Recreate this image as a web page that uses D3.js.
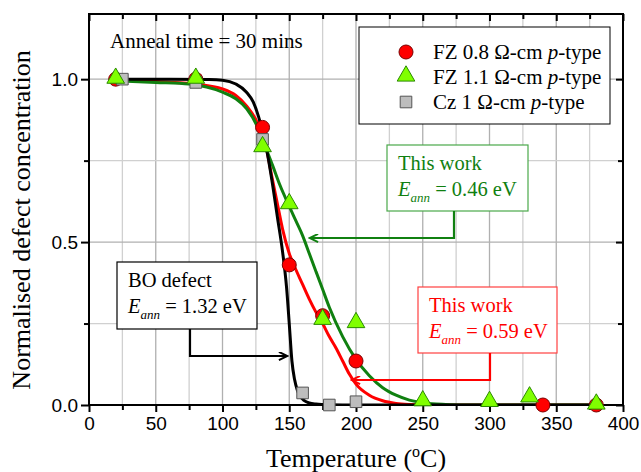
<!DOCTYPE html>
<html lang="en">
<head>
<meta charset="UTF-8">
<title>Anneal</title>
<script src="https://d3js.org/d3.v7.min.js"></script>
<style>
  body { margin: 0; background: #fff; }
  text { font-family: "Liberation Serif", "Times New Roman", serif; }
  .tick text { font-family: "Liberation Sans", Arial, sans-serif; font-size: 19px; fill: #000; }
</style>
</head>
<body>
<svg width="641" height="472"></svg>
<script>
// measured points
let fzA_T = [20, 80, 130, 150, 175, 200, 340, 380]
let fzA_N = [1.0, 1.0, 0.852, 0.43, 0.274, 0.135, 0.0, 0.0]

let fzB_T = [20, 80, 130, 150, 175, 200, 250, 300, 330, 380]
let fzB_N = [1.0, 1.0, 0.79, 0.615, 0.26, 0.25, 0.01, 0.008, 0.022, 0.0]

let cz_T = [25, 80, 130, 160, 180, 200]
let cz_N = [1.0, 0.99, 0.815, 0.037, 0.0, 0.01]

// fitted curves
let fitBO_T = [20, 60, 90, 100, 110, 118, 123, 127, 130, 133, 137, 141, 145, 148, 150, 152, 154, 156, 158, 161, 165, 170, 180, 200, 380]
let fitBO_N = [1.0, 1.0, 0.999, 0.997, 0.985, 0.96, 0.93, 0.885, 0.84, 0.785, 0.69, 0.58, 0.47, 0.36, 0.25, 0.135, 0.078, 0.046, 0.028, 0.014, 0.006, 0.003, 0.001, 0, 0]

let fitA_T = [20, 50, 80, 100, 110, 118, 126, 133, 137, 141, 145, 150, 155, 160, 165, 170, 175, 180, 185, 190, 195, 200, 210, 220, 230, 240, 250, 380]
let fitA_N = [0.998, 0.993, 0.985, 0.97, 0.95, 0.918, 0.867, 0.785, 0.70, 0.62, 0.54, 0.465, 0.415, 0.37, 0.325, 0.285, 0.25, 0.21, 0.175, 0.135, 0.095, 0.064, 0.03, 0.013, 0.005, 0.0015, 0, 0]

let fitB_T = [20, 50, 75, 100, 110, 118, 126, 130, 138, 143, 150, 155, 160, 165, 170, 175, 180, 190, 200, 210, 220, 230, 240, 250, 260, 270, 285, 380]
let fitB_N = [0.995, 0.99, 0.985, 0.96, 0.94, 0.91, 0.856, 0.815, 0.73, 0.675, 0.61, 0.565, 0.52, 0.465, 0.41, 0.355, 0.30, 0.21, 0.14, 0.09, 0.053, 0.03, 0.015, 0.007, 0.003, 0.001, 0, 0]

let xTicks = [0, 50, 100, 150, 200, 250, 300, 350, 400]
let yTicks = [0.0, 0.5, 1.0]

let svg = d3.select('svg')
let x = d3.scaleLinear().domain([0, 400]).range([89, 623])
let y = d3.scaleLinear().domain([0, 1.2]).range([405, 14])

let zip = (a, b) => a.map((v, i) => [v, b[i]])

// grid
let grid = svg.append('g')
grid.selectAll('line.vx')
    .data(d3.range(25, 400, 25))
    .join('line')
    .attr('x1', d => x(d)).attr('x2', d => x(d))
    .attr('y1', y(0)).attr('y2', y(1.2))
    .attr('stroke', d => d % 50 == 0 ? '#b0b0b0' : '#d0d0d0')
    .attr('stroke-width', 1.3)
grid.selectAll('line.hy')
    .data([0.25, 0.5, 0.75, 1.0])
    .join('line')
    .attr('x1', x(0)).attr('x2', x(400))
    .attr('y1', d => y(d)).attr('y2', d => y(d))
    .attr('stroke', d => d % 0.5 == 0 ? '#b0b0b0' : '#d0d0d0')
    .attr('stroke-width', 1.3)

// axes
let minorX = d3.range(25, 400, 50)
let minorY = [0.25, 0.75]
function styleAxis(g) {
    g.select('.domain').remove()
    g.selectAll('.tick line').attr('stroke', '#000').attr('stroke-width', 2)
}
svg.append('g').attr('transform', `translate(0,${y(0)})`)
    .call(d3.axisBottom(x).tickValues(xTicks).tickSize(7).tickPadding(5).tickFormat(d3.format('d')))
    .call(styleAxis)
svg.append('g').attr('transform', `translate(0,${y(0)})`)
    .call(d3.axisBottom(x).tickValues(minorX).tickSize(5).tickFormat(''))
    .call(styleAxis)
svg.append('g').attr('transform', `translate(0,${y(1.2)})`)
    .call(d3.axisTop(x).tickValues(xTicks).tickSize(-7).tickFormat(''))
    .call(styleAxis)
svg.append('g').attr('transform', `translate(0,${y(1.2)})`)
    .call(d3.axisTop(x).tickValues(minorX).tickSize(-5).tickFormat(''))
    .call(styleAxis)
svg.append('g').attr('transform', `translate(${x(0)},0)`)
    .call(d3.axisLeft(y).tickValues(yTicks).tickSize(8).tickPadding(3).tickFormat(d3.format('.1f')))
    .call(styleAxis)
svg.append('g').attr('transform', `translate(${x(0)},0)`)
    .call(d3.axisLeft(y).tickValues(minorY).tickSize(5).tickFormat(''))
    .call(styleAxis)
svg.append('g').attr('transform', `translate(${x(400)},0)`)
    .call(d3.axisRight(y).tickValues(yTicks).tickSize(-7).tickFormat(''))
    .call(styleAxis)
svg.append('g').attr('transform', `translate(${x(400)},0)`)
    .call(d3.axisRight(y).tickValues(minorY).tickSize(-5).tickFormat(''))
    .call(styleAxis)

// fit curves
svg.append('clipPath').attr('id', 'plot')
    .append('rect').attr('x', x(0)).attr('y', y(1.2)).attr('width', x(400) - x(0)).attr('height', y(0) - y(1.2))
let line = d3.line().x(d => x(d[0])).y(d => y(d[1])).curve(d3.curveMonotoneX)
let fits = [
    {pts: zip(fitA_T, fitA_N), color: '#ff0000'},
    {pts: zip(fitB_T, fitB_N), color: '#108010'},
    {pts: zip(fitBO_T, fitBO_N), color: '#000000'}
]
svg.append('g').attr('clip-path', 'url(#plot)')
    .selectAll('path')
    .data(fits)
    .join('path')
    .attr('d', d => line(d.pts))
    .attr('fill', 'none')
    .attr('stroke', d => d.color)
    .attr('stroke-width', 3)

// frame
svg.append('rect')
    .attr('x', x(0)).attr('y', y(1.2))
    .attr('width', x(400) - x(0)).attr('height', y(0) - y(1.2))
    .attr('fill', 'none').attr('stroke', '#000').attr('stroke-width', 2)

// markers
let tri = d3.symbol().type(d3.symbolTriangle).size(135)
let sq = d3.symbol().type(d3.symbolSquare).size(135)

svg.append('g').selectAll('circle')
    .data(zip(fzA_T, fzA_N))
    .join('circle')
    .attr('cx', d => x(d[0])).attr('cy', d => y(d[1])).attr('r', 7)
    .attr('fill', '#ff0000').attr('stroke', '#7a0000').attr('stroke-width', 1)
svg.append('g').selectAll('path')
    .data(zip(cz_T, cz_N))
    .join('path')
    .attr('d', sq)
    .attr('transform', d => `translate(${x(d[0])},${y(d[1])})`)
    .attr('fill', '#bdbdbd').attr('stroke', '#555').attr('stroke-width', 1)
svg.append('g').selectAll('path')
    .data(zip(fzB_T, fzB_N))
    .join('path')
    .attr('d', tri)
    .attr('transform', d => `translate(${x(d[0])},${y(d[1]) - 1})`)
    .attr('fill', '#80ff00').attr('stroke', '#2a8a00').attr('stroke-width', 1)

// anneal time label
svg.append('text').attr('x', 110).attr('y', 48).attr('font-size', 21).text('Anneal time = 30 mins')

// legend
let legend = svg.append('g')
legend.append('rect').attr('x', 359).attr('y', 27).attr('width', 251).attr('height', 97)
    .attr('fill', '#fff').attr('stroke', '#000').attr('stroke-width', 1)
let legItems = [
    {a: 'FZ 0.8 Ω-cm ', kind: 'c'},
    {a: 'FZ 1.1 Ω-cm ', kind: 't'},
    {a: 'Cz 1 Ω-cm ', kind: 's'}
]
legItems.forEach((it, i) => {
    let cy = 52 + i * 25
    if (it.kind == 'c') legend.append('circle').attr('cx', 406).attr('cy', cy).attr('r', 7)
        .attr('fill', '#ff0000').attr('stroke', '#7a0000')
    if (it.kind == 't') legend.append('path').attr('d', tri).attr('transform', `translate(406,${cy - 1})`)
        .attr('fill', '#80ff00').attr('stroke', '#2a8a00')
    if (it.kind == 's') legend.append('path').attr('d', sq).attr('transform', `translate(406,${cy})`)
        .attr('fill', '#bdbdbd').attr('stroke', '#555')
    let t = legend.append('text').attr('x', 433).attr('y', cy + 7).attr('font-size', 21)
    t.append('tspan').text(it.a)
    t.append('tspan').attr('font-style', 'italic').text('p')
    t.append('tspan').text('-type')
})

// annotation boxes
function note(bx, by, bw, bh, color, border, title, val) {
    let g = svg.append('g')
    g.append('rect').attr('x', bx).attr('y', by).attr('width', bw).attr('height', bh)
        .attr('fill', '#fff').attr('stroke', border).attr('stroke-width', 1.2)
    g.append('text').attr('x', bx + 11).attr('y', by + 25).attr('font-size', 20.5).attr('fill', color).text(title)
    let t = g.append('text').attr('x', bx + 11).attr('y', by + 51).attr('font-size', 20.5).attr('fill', color)
    t.append('tspan').attr('font-style', 'italic').text('E')
    t.append('tspan').attr('font-style', 'italic').attr('font-size', 13).attr('dy', 6).text('ann')
    t.append('tspan').attr('dy', -6).text(' = ' + val)
}
note(117, 262, 140, 67, '#000', '#000', 'BO defect', '1.32 eV')
note(387, 145, 141, 66, '#108010', '#4aa84a', 'This work', '0.46 eV')
note(418, 287, 139, 66, '#ff0000', '#ff4040', 'This work', '0.59 eV')

// arrows
let defs = svg.append('defs')
;[['k', '#000'], ['g', '#108010'], ['r', '#ff0000']].forEach(m => {
    defs.append('marker').attr('id', 'ah' + m[0])
        .attr('viewBox', '0 0 10 10').attr('refX', 9).attr('refY', 5)
        .attr('markerWidth', 11).attr('markerHeight', 9).attr('markerUnits', 'userSpaceOnUse')
        .attr('orient', 'auto')
        .append('path').attr('d', 'M0,0.5 L9.5,5 L0,9.5').attr('fill', 'none').attr('stroke', m[1]).attr('stroke-width', 2.2)
})
function arrow(pts, color, id) {
    svg.append('path').attr('d', d3.line()(pts)).attr('fill', 'none')
        .attr('stroke', color).attr('stroke-width', 2.2).attr('marker-end', `url(#ah${id})`)
}
arrow([[190, 329], [190, 356], [287, 356]], '#000', 'k')
arrow([[454, 211], [454, 238], [310, 238]], '#108010', 'g')
arrow([[490, 353], [490, 380], [352, 380]], '#ff0000', 'r')

// axis titles
svg.append('text').attr('transform', 'translate(30,220) rotate(-90)')
    .attr('text-anchor', 'middle').attr('font-size', 26).text('Normalised defect concentration')
let xt = svg.append('text').attr('x', 356).attr('y', 467).attr('text-anchor', 'middle').attr('font-size', 26)
xt.append('tspan').text('Temperature (')
xt.append('tspan').attr('font-size', 16).attr('dy', -10).text('o')
xt.append('tspan').attr('dy', 10).text('C)')
</script>
</body>
</html>
